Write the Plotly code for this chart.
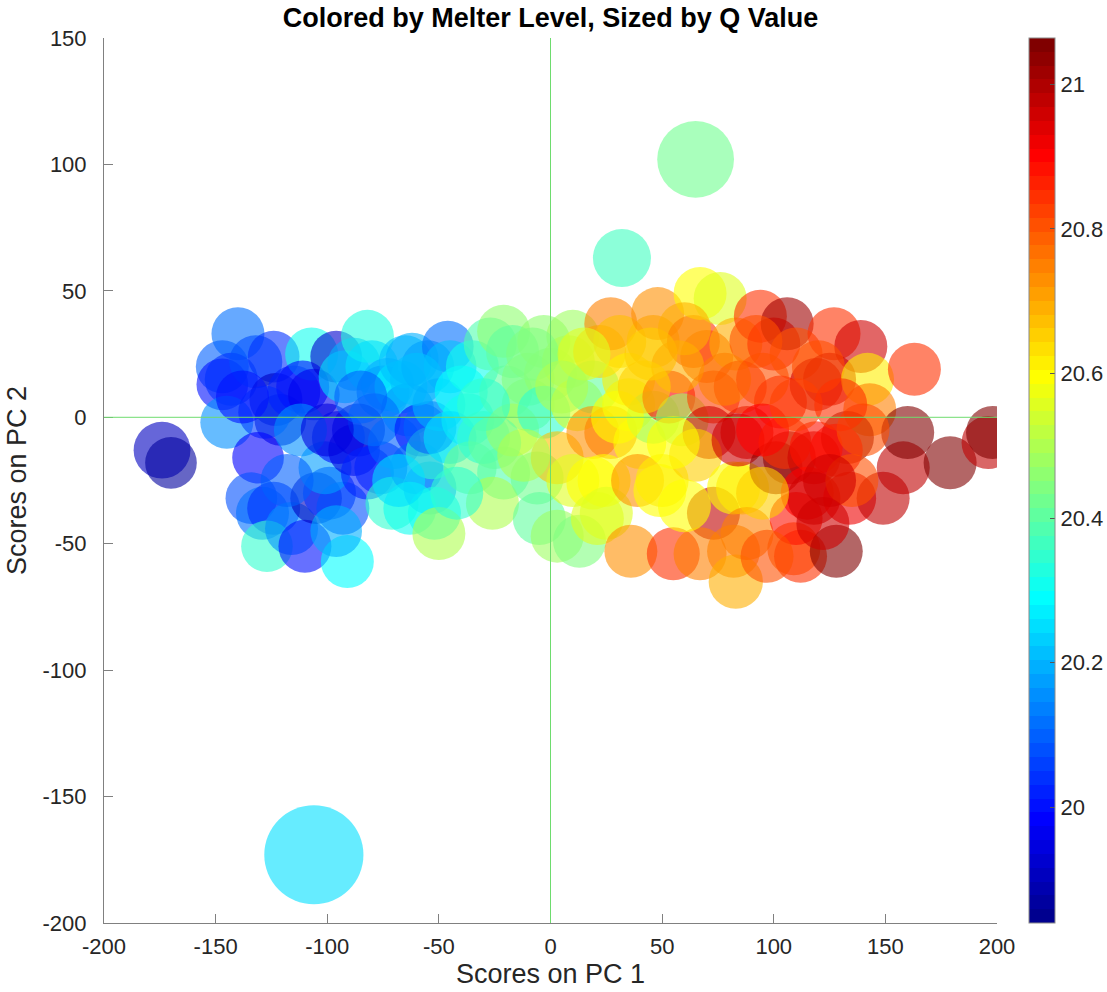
import plotly.graph_objects as go

# ---- data (PC1 score, PC2 score, melter level, Q value) ----
pc1 = [-106, 65, 32, -174, -170,
       -140, -147, -147, -143, -145, -132, -124, -123, -121, -128, -115, -131, -134, -129, -124,
       -127, -116, -110, -105, -99, -93, -91, -96, -101, -107, -111, -106, -96, -92, -88,
       -82, -80, -75, -86, -95, -88, -82, -76, -70, -71, -73, -67, -64, -79, -65,
       -62, -55, -46, -45, -58, -60, -54, -53, -52, -63, -54, -60, -50, -40, -35,
       -37, -45, -50, -36, -30, -27, -21, -17, -21, -26, -20, -17, -10, -10, -3,
       0, -3, -6, -5, 10, 8, 12, 3, 3, 13, 10, 19, 22, 19, 19,
       21, 27, 31, 27, 24, 25, 35, 40, 35, 39, 36, 46, 48, 46, 53,
       59, 49, 50, 55, 64, 70, 67, 76, 73, 71, 73, 67, 65, 83, 82,
       86, 84, 88, 82, 83, 88, 85, 94, 100, 106, 110, 103, 101, 107, 105,
       118, 119, 109, 112, 110, 115, 127, 139, 125, 120, 142, 143, 163, 133, 128,
       119, 118, 134, 128, 149, 158, 160, 179, 196, 198, 140, 135, 45, 57, 92,
       -138, -112, -118, -100, -85, -68, -42, -30, -25, -12, -8, 15, 5, 30,
       42, 55, 60, 60, 78, 95, 95, 95, 125, 110, 130, 122, 97]
pc2 = [-173, 102, 63, -13, -18,
       33, 20, 13, 15, -2, 22, 24, 7, -1, 2, 10, -16, -32, -38, -36,
       -51, -44, -51, -32, -30, -36, -57, -45, -20, 25, 12, 9, 24, 16, 21,
       32, 20, 10, -5, -8, -13, -22, -20, -10, -34, 13, 12, 3, -1, 22,
       23, 20, 28, 20, -5, -20, -28, -14, -38, -36, -4, 15, 5, 10, 20,
       -1, -8, -46, -20, -8, 29, 34, 26, -22, -34, 10, -5, 5, 15, 30,
       17, 2, -24, -40, 32, 22, 5, -16, -47, -49, -25, 12, 26, -6, -26,
       -40, 37, 30, -6, -25, -38, 5, -10, 15, -25, -53, 30, 41, 0, 8,
       -1, -29, -25, -54, 30, 24, 49, 47, 8, -6, -38, -54, -15, 29, -28,
       -28, -9, -6, -53, -65, -46, 12, 40, 29, 37, 25, 6, -20, -16, -10,
       -16, 13, -52, -55, -40, -30, 33, 28, 15, 20, 15, 3, 19, -8, -13,
       -12, -32, -32, -53, -32, -20, -6, -18, -10, -6, -5, -25, 25, 20, 30,
       8, -5, -25, -5, 8, -25, -30, 5, -10, -15, 25, 25, 12, 0,
       12, -10, -35, 35, 15, 15, -5, -30, -25, 5, 5, -42, -55]
melter = [20.25, 20.43, 20.36, 19.90, 19.87,
          20.12, 20.10, 20.00, 20.05, 20.15, 20.08, 20.05, 19.90, 19.92, 20.06, 20.02, 19.98, 20.08, 20.12, 20.05,
          20.35, 20.15, 20.00, 19.90, 20.05, 20.08, 20.28, 20.20, 20.18, 20.30, 20.00, 19.97, 19.93, 20.25, 20.20,
          20.33, 20.25, 20.15, 19.90, 20.00, 19.95, 20.02, 20.03, 20.10, 20.35, 20.20, 20.28, 20.15, 20.12, 20.22,
          20.20, 20.18, 20.12, 20.22, 20.00, 20.10, 20.15, 20.35, 20.30, 20.30, 20.10, 20.22, 20.20, 20.28, 20.30,
          20.30, 20.25, 20.50, 20.42, 20.35, 20.38, 20.47, 20.40, 20.38, 20.50, 20.40, 20.55, 20.45, 20.45, 20.47,
          20.47, 20.35, 20.42, 20.40, 20.48, 20.50, 20.55, 20.68, 20.48, 20.45, 20.55, 20.40, 20.65, 20.72, 20.60,
          20.55, 20.75, 20.68, 20.75, 20.60, 20.55, 20.58, 20.60, 20.62, 20.72, 20.72, 20.68, 20.72, 20.48, 20.90,
          20.48, 20.60, 20.62, 20.85, 20.85, 20.80, 20.60, 20.55, 20.82, 20.95, 20.97, 20.75, 20.65, 20.70, 20.60,
          20.62, 20.95, 20.95, 20.75, 20.70, 20.75, 20.85, 20.85, 20.88, 21.02, 20.80, 20.88, 21.03, 21.03, 20.85,
          20.95, 20.95, 20.78, 20.85, 20.88, 20.90, 20.85, 20.95, 20.95, 20.80, 20.62, 20.75, 20.85, 21.05, 20.90,
          20.88, 20.95, 20.92, 21.05, 20.97, 20.98, 21.05, 21.05, 20.98, 21.05, 20.80, 20.80, 20.66, 20.70, 20.80,
          20.00, 20.15, 20.10, 19.95, 20.10, 20.25, 20.35, 20.35, 20.40, 20.50, 20.45, 20.55, 20.50, 20.60,
          20.65, 20.60, 20.60, 20.70, 20.75, 20.80, 20.90, 20.65, 20.95, 20.82, 20.85, 20.95, 20.80]
qvalue = [3.50, 2.10, 1.20, 1.15, 0.95,
          1.00, 1.00, 0.95, 1.00, 1.00, 1.00, 0.95, 1.00, 0.95, 1.00, 1.00, 0.95, 0.95, 1.00, 1.00,
          0.95, 1.00, 1.00, 0.95, 1.00, 1.00, 1.00, 0.95, 1.00, 1.00, 1.00, 0.95, 0.95, 1.00, 1.00,
          1.00, 1.00, 1.00, 1.00, 1.00, 0.95, 1.00, 1.00, 1.00, 1.00, 1.00, 1.00, 1.00, 1.00, 1.00,
          1.00, 1.00, 0.95, 1.00, 1.00, 1.00, 1.00, 1.00, 1.00, 1.00, 1.00, 1.00, 1.00, 1.00, 1.00,
          1.00, 1.00, 1.00, 1.00, 1.00, 1.00, 1.00, 1.00, 1.00, 1.00, 1.00, 1.00, 1.00, 1.00, 1.00,
          1.00, 1.00, 1.00, 1.00, 1.00, 1.00, 1.00, 1.00, 1.00, 1.00, 1.00, 1.00, 1.00, 1.00, 1.00,
          1.00, 1.00, 1.00, 1.00, 1.00, 1.00, 1.00, 1.00, 1.00, 1.00, 1.00, 1.00, 1.00, 1.00, 1.00,
          1.00, 1.00, 1.00, 1.00, 1.00, 1.00, 1.00, 1.00, 1.00, 1.00, 1.00, 1.00, 1.00, 1.00, 1.00,
          1.00, 1.00, 1.00, 1.00, 1.05, 1.00, 1.00, 1.00, 1.00, 1.00, 1.00, 1.00, 1.00, 1.00, 1.00,
          1.00, 1.00, 1.00, 1.00, 1.00, 1.00, 1.00, 1.00, 1.00, 1.00, 1.00, 1.00, 1.00, 1.00, 1.00,
          1.00, 1.00, 1.00, 1.00, 1.00, 1.00, 1.00, 1.00, 1.00, 1.00, 1.00, 1.00, 1.00, 1.00, 1.00,
          1.00, 1.00, 1.00, 1.00, 1.00, 1.00, 1.00, 1.00, 1.00, 1.00, 1.00, 1.00, 1.00, 1.00,
          1.00, 1.00, 1.00, 1.00, 1.00, 1.00, 1.00, 1.00, 1.00, 1.00, 1.00, 1.00, 1.00]

x_ticks = [-200, -150, -100, -50, 0, 50, 100, 150, 200]
x_labels = ["-200", "-150", "-100", "-50", "0", "50", "100", "150", "200"]
y_ticks = [-200, -150, -100, -50, 0, 50, 100, 150]
y_labels = ["-200", "-150", "-100", "-50", "0", "50", "100", "150"]
cbar_ticks = [20.0, 20.2, 20.4, 20.6, 20.8, 21.0]
cbar_labels = ["20", "20.2", "20.4", "20.6", "20.8", "21"]


def matlab_jet(n=64):
    m = -(-n // 4)
    u = [i / m for i in range(1, m + 1)] + [1.0] * (m - 1) + [i / m for i in range(m, 0, -1)]
    off = -(-m // 2) - (1 if n % 4 == 1 else 0)
    g = [off + i for i in range(1, len(u) + 1)]
    r = [v + m for v in g]
    b = [v - m for v in g]
    g = [v for v in g if v <= n]
    r = [v for v in r if v <= n]
    b = [v for v in b if v >= 1]
    J = [[0.0, 0.0, 0.0] for _ in range(n)]
    for k, idx in enumerate(r):
        J[idx - 1][0] = u[k]
    for k, idx in enumerate(g):
        J[idx - 1][1] = u[k]
    for k, idx in enumerate(b):
        J[idx - 1][2] = u[len(u) - len(b) + k]
    return J


jet = matlab_jet(64)
colorscale = []
for i, c in enumerate(jet):
    s = "rgb(%d,%d,%d)" % tuple(round(255 * v) for v in c)
    colorscale.append([i / 64, s])
    colorscale.append([(i + 1) / 64, s])

FONT = "Liberation Sans, Arial, Helvetica, sans-serif"
TXT = "#262626"
base_diam = 53.0

fig = go.Figure()
fig.add_trace(go.Scatter(
    x=pc1, y=pc2, mode="markers",
    marker=dict(
        size=qvalue, sizemode="area", sizeref=2.0 / base_diam ** 2,
        color=melter, colorscale=colorscale, cmin=19.84, cmax=21.064,
        opacity=0.6, line=dict(width=0),
        colorbar=dict(
            x=(1029 - 104) / 893, xanchor="left", xref="paper", xpad=0, ypad=0,
            y=0.5, yanchor="middle", len=1.0, lenmode="fraction",
            thickness=26, outlinewidth=1, outlinecolor="#8a8a8a",
            tickvals=cbar_ticks, ticktext=cbar_labels, ticks="inside", ticklen=5, tickcolor="#555555",
            tickfont=dict(family=FONT, size=22, color=TXT),
        ),
    ),
    hoverinfo="skip", showlegend=False,
))

fig.add_shape(type="line", xref="x", yref="y", x0=0, x1=0, y0=-200, y1=150,
              line=dict(color="rgb(110,220,110)", width=1), layer="above")
fig.add_shape(type="line", xref="x", yref="y", x0=-200, x1=200, y0=0, y1=0,
              line=dict(color="rgb(110,220,110)", width=1), layer="above")

axis_common = dict(
    showgrid=False, zeroline=False, showline=True, linecolor="#808080", linewidth=1,
    ticks="inside", ticklen=9, tickcolor="#808080", mirror=False,
    tickfont=dict(family=FONT, size=22, color=TXT),
)
fig.update_xaxes(range=[-200, 200], tickvals=x_ticks, ticktext=x_labels, ticklabelstandoff=4,
                 title=dict(text="Scores on PC 1", font=dict(family=FONT, size=27, color=TXT), standoff=5),
                 **axis_common)
fig.update_yaxes(range=[-200, 150], tickvals=y_ticks, ticktext=y_labels, ticklabelstandoff=12,
                 title=dict(text="Scores on PC 2", font=dict(family=FONT, size=27, color=TXT), standoff=8),
                 **axis_common)

fig.update_layout(
    width=1107, height=992, autosize=False,
    margin=dict(l=104, r=110, t=38, b=69, pad=0, autoexpand=False),
    paper_bgcolor="white", plot_bgcolor="white",
    title=dict(text="Colored by Melter Level, Sized by Q Value", x=0.5, xref="paper", xanchor="center",
               y=1 - 18 / 992, yref="container", yanchor="middle",
               font=dict(family=FONT, size=27, color="black", weight="bold")),
)

fig.write_html("out.html")
